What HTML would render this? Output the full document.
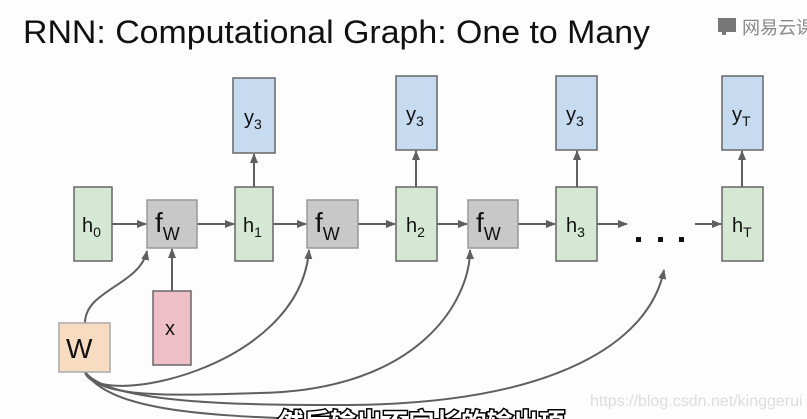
<!DOCTYPE html>
<html><head><meta charset="utf-8"><style>
html,body{margin:0;padding:0;background:#fff;}
svg{display:block;font-family:"Liberation Sans","Noto Sans CJK SC",sans-serif;}
</style></head><body>
<svg width="807" height="419" viewBox="0 0 807 419" xmlns="http://www.w3.org/2000/svg">
<defs>
<marker id="a" markerWidth="10" markerHeight="10" refX="9" refY="5" orient="auto" markerUnits="userSpaceOnUse">
<path d="M0,1 L10,5 L0,9 z" fill="#5f5f5f"/></marker>
</defs>
<rect width="807" height="419" fill="#fdfdfd"/>
<text x="23" y="43" font-size="32" fill="#111" textLength="627" lengthAdjust="spacingAndGlyphs">RNN: Computational Graph: One to Many</text>
<rect x="718" y="18" width="18" height="14" fill="#777"/><rect x="722" y="30" width="4" height="5" fill="#777"/>
<text x="742" y="34" font-size="18" fill="#888">网易云课</text>

<g stroke="#5f5f5f" stroke-width="2" fill="none">
<line x1="112" y1="224" x2="146" y2="224" marker-end="url(#a)"/>
<line x1="197" y1="224" x2="234" y2="224" marker-end="url(#a)"/>
<line x1="273" y1="224" x2="306" y2="224" marker-end="url(#a)"/>
<line x1="358" y1="224" x2="395" y2="224" marker-end="url(#a)"/>
<line x1="437" y1="224" x2="467" y2="224" marker-end="url(#a)"/>
<line x1="518" y1="224" x2="555" y2="224" marker-end="url(#a)"/>
<line x1="597" y1="224" x2="627" y2="224" marker-end="url(#a)"/>
<line x1="695" y1="224" x2="721" y2="224" marker-end="url(#a)"/>
<line x1="172" y1="291" x2="172" y2="249" marker-end="url(#a)"/>
<line x1="254" y1="187" x2="254" y2="154" marker-end="url(#a)"/>
<line x1="416" y1="187" x2="416" y2="151" marker-end="url(#a)"/>
<line x1="577" y1="187" x2="577" y2="151" marker-end="url(#a)"/>
<line x1="742" y1="187" x2="742" y2="151" marker-end="url(#a)"/>
<path d="M85,323 C85,290 140,285 147,251" marker-end="url(#a)"/>
<path d="M85,372 C95,410 300,370 309,250" marker-end="url(#a)"/>
<path d="M85,372 C100,400 180,395 260,393 C420,390 470,300 470,250" marker-end="url(#a)"/>
<path d="M85,372 C110,405 250,405 350,405 C560,403 650,340 664,270" marker-end="url(#a)"/>
<path d="M85,372 C110,410 200,415 300,419" />
</g>

<g stroke="#666" stroke-width="1.5">
<rect x="74" y="187" width="38" height="74" fill="#d5e8d4"/>
<rect x="235" y="187" width="38" height="74" fill="#d5e8d4"/>
<rect x="396" y="187" width="41" height="74" fill="#d5e8d4"/>
<rect x="556" y="187" width="41" height="74" fill="#d5e8d4"/>
<rect x="722" y="187" width="41" height="74" fill="#d5e8d4"/>
<rect x="233" y="78" width="42" height="75" fill="#c6dbef"/>
<rect x="396" y="76" width="41" height="74" fill="#c6dbef"/>
<rect x="556" y="76" width="41" height="74" fill="#c6dbef"/>
<rect x="722" y="76" width="41" height="74" fill="#c6dbef"/>
<rect x="147" y="200" width="50" height="48" fill="#c8c8c8" stroke="#999"/>
<rect x="307" y="200" width="51" height="48" fill="#c8c8c8" stroke="#999"/>
<rect x="468" y="200" width="50" height="48" fill="#c8c8c8" stroke="#999"/>
<rect x="153" y="291" width="38" height="74" fill="#eebfc6"/>
<rect x="59" y="323" width="51" height="49" fill="#f8dcc1" stroke="#aaa"/>
</g>

<g font-size="20" fill="#111">
<text x="82" y="232">h<tspan font-size="14" dy="5">0</tspan></text>
<text x="243" y="232">h<tspan font-size="14" dy="5">1</tspan></text>
<text x="406" y="232">h<tspan font-size="14" dy="5">2</tspan></text>
<text x="566" y="232">h<tspan font-size="14" dy="5">3</tspan></text>
<text x="732" y="232">h<tspan font-size="14" dy="5">T</tspan></text>
<text x="244" y="124">y<tspan font-size="14" dy="5">3</tspan></text>
<text x="406" y="121">y<tspan font-size="14" dy="5">3</tspan></text>
<text x="566" y="121">y<tspan font-size="14" dy="5">3</tspan></text>
<text x="732" y="121">y<tspan font-size="14" dy="5">T</tspan></text>
<text x="155" y="232" font-size="28">f<tspan font-size="18" dy="8">W</tspan></text>
<text x="315" y="232" font-size="28">f<tspan font-size="18" dy="8">W</tspan></text>
<text x="476" y="232" font-size="28">f<tspan font-size="18" dy="8">W</tspan></text>
<text x="165" y="335">x</text>
<text x="66" y="358" font-size="28">W</text>
</g>
<rect x="636" y="237" width="5" height="5" fill="#111"/>
<rect x="658" y="237" width="5" height="5" fill="#111"/>
<rect x="679" y="237" width="5" height="5" fill="#111"/>
<text x="590" y="406" font-size="16" fill="#ddd">https://blog.csdn.net/kinggerui</text>
<text x="278" y="432" font-size="26" font-weight="bold" fill="#fff" stroke="#000" stroke-width="3" paint-order="stroke" textLength="287">然后输出不定长的输出项</text>
</svg>
</body></html>
